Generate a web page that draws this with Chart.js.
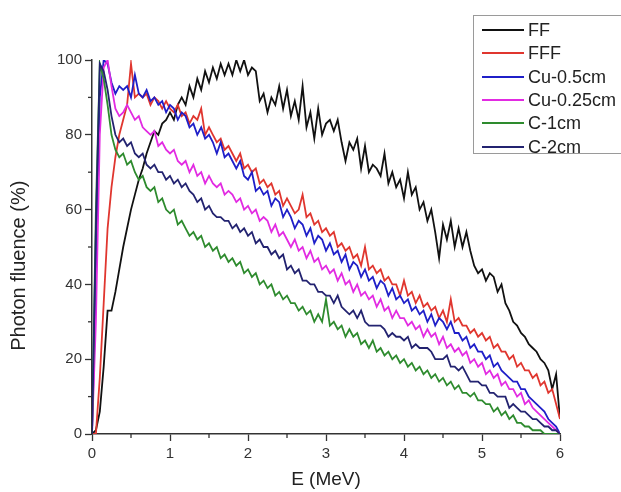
<!DOCTYPE html>
<html>
<head>
<meta charset="utf-8">
<script src="https://cdn.jsdelivr.net/npm/chart.js@4.4.1/dist/chart.umd.min.js"></script>
<style>
  html, body { margin: 0; padding: 0; background: #fff; overflow: hidden; }
  #wrap { position: relative; width: 621px; height: 492px; }
  #legend { position: absolute; left: 473px; top: 15px; width: 160px; height: 139px; border: 1px solid #9a9a9a; background: #fff; font-family: "Liberation Sans", Arial, sans-serif; font-size: 18px; color: #222; box-sizing: border-box; }
  .row { position: absolute; left: 0; height: 22px; line-height: 22px; white-space: nowrap; }
  .row span.l { position: absolute; left: 8px; top: 10px; width: 42px; height: 0; border-top: 2px solid #000; }
  .row span.t { position: absolute; left: 54px; top: 0; }
</style>
</head>
<body>
<div id="wrap">
  <canvas id="c" width="621" height="492"></canvas>
  <div id="legend"></div>
</div>
<script>
// ---- data ----
const energy = [0,0.05,0.1,0.15,0.2,0.25,0.3,0.35,0.4,0.45,0.5,0.55,0.6,0.65,0.7,0.75,0.8,0.85,0.9,0.95,
1,1.05,1.1,1.15,1.2,1.25,1.3,1.35,1.4,1.45,1.5,1.55,1.6,1.65,1.7,1.75,1.8,1.85,1.9,1.95,
2,2.05,2.1,2.15,2.2,2.25,2.3,2.35,2.4,2.45,2.5,2.55,2.6,2.65,2.7,2.75,2.8,2.85,2.9,2.95,
3,3.05,3.1,3.15,3.2,3.25,3.3,3.35,3.4,3.45,3.5,3.55,3.6,3.65,3.7,3.75,3.8,3.85,3.9,3.95,
4,4.05,4.1,4.15,4.2,4.25,4.3,4.35,4.4,4.45,4.5,4.55,4.6,4.65,4.7,4.75,4.8,4.85,4.9,4.95,
5,5.05,5.1,5.15,5.2,5.25,5.3,5.35,5.4,5.45,5.5,5.55,5.6,5.65,5.7,5.75,5.8,5.85,5.9,5.95,6];

const seriesNames = ["FF","FFF","Cu-0.5cm","Cu-0.25cm","C-1cm","C-2cm"];

const ff = [0,1,6,18,33,33,38,44,50,55,60,64,68,71,75,78,81,80,83,84,
86,84,88,90,88,93,90,95,92,97,94,98,95,99,96,99,96,100,97,100,
96,98,97,89,91,86,90,88,93,87,92,85,89,84,93,82,86,79,87,80,
83,84,81,84,78,73,78,76,79,71,77,70,72,71,69,75,67,70,66,68,
63,70,64,66,60,62,57,60,54,47,56,52,57,50,55,50,54,49,45,43,
44,41,43,42,38,40,35,33,30,29,27,26,24,23,22,20,19,17,12,16,4];

const fff = [0,0,15,35,55,66,74,80,84,88,99,90,91,90,91,88,90,89,87,89,
87,86,88,85,86,83,85,84,87,80,82,80,78,79,76,77,75,73,75,71,
72,70,71,67,68,66,67,64,65,61,63,61,59,60,64,58,59,56,57,54,
55,53,54,50,51,49,50,47,48,45,50,44,45,43,44,41,42,40,40,37,
41,37,38,35,37,34,35,33,34,31,33,30,36,30,31,29,29,27,28,26,
27,25,26,23,24,22,22,20,21,18,19,17,17,15,16,13,14,11,12,8,4];

const cu05 = [0,40,90,100,99,94,91,93,92,93,90,96,91,90,92,89,90,88,89,86,
88,87,84,86,85,82,83,80,82,79,80,78,75,78,74,75,73,71,73,69,
68,70,65,66,64,65,61,63,62,58,60,58,55,57,56,53,55,51,53,52,
49,51,48,49,46,48,44,46,45,42,44,41,42,39,41,40,37,39,36,37,
35,36,33,34,32,33,30,32,29,31,30,28,30,27,27,25,26,23,24,22,
22,20,21,18,19,17,16,15,14,14,12,12,10,9,8,7,6,4,3,2,0];

const cu025 = [0,30,80,98,100,93,87,85,86,88,86,84,85,82,81,80,81,77,78,76,
75,76,73,72,73,70,72,69,70,67,69,67,66,67,64,65,64,62,63,60,
61,59,60,57,58,57,54,56,53,54,52,50,52,49,50,47,49,46,47,44,
45,43,44,41,43,40,41,38,40,37,38,36,37,34,36,33,34,31,33,31,
31,29,30,28,29,26,28,26,27,24,26,23,24,22,23,21,22,19,20,18,
19,16,17,15,16,13,14,12,12,10,11,8,9,7,6,5,4,3,2,1,0];

const c1 = [0,60,99,95,88,80,76,74,75,72,73,70,68,69,66,65,66,62,63,60,
59,60,56,57,55,53,54,52,53,50,51,49,50,47,48,46,47,45,46,43,
44,42,43,40,41,39,40,37,38,36,37,35,35,33,34,32,33,30,32,30,
36,29,30,28,29,26,28,26,27,24,25,23,25,22,23,21,22,20,21,19,
20,18,19,17,18,16,17,15,16,14,15,13,14,12,13,11,11,10,11,9,
9,8,8,6,7,5,6,4,5,3,3,2,2,1,1,1,0,0,0,0,0];

const c2 = [0,55,99,97,92,85,80,78,79,77,78,75,74,75,72,71,72,70,70,68,
69,67,68,66,67,65,64,62,63,60,61,59,58,58,57,57,55,56,54,55,
53,54,51,52,50,50,48,49,47,48,44,45,43,44,41,41,40,40,38,38,
37,37,35,37,34,33,32,33,31,33,30,29,29,29,29,28,26,27,26,26,
25,26,23,24,23,23,23,22,20,20,20,21,18,18,17,18,16,14,14,14,
13,13,11,11,10,10,10,7,8,7,6,6,5,4,4,3,2,2,1,1,0];

const xTicks = [0,1,2,3,4,5,6];
const yTicks = [0,20,40,60,80,100];
const yTitle = 'Photon fluence (%)';

// ---- styles ----
const colors = ["#111111","#e0362f","#1f1fc8","#e22be2","#2e8b2e","#232370"];
const allValues = [ff, fff, cu05, cu025, c1, c2];

const datasets = allValues.map((vals, i) => ({
  label: seriesNames[i],
  data: energy.map((e, k) => ({x: e, y: vals[k]})),
  borderColor: colors[i],
  backgroundColor: colors[i],
  borderWidth: 1.8,
  pointRadius: 0,
  tension: 0,
  fill: false,
  order: 5 - i
}));

// HTML legend
const lg = document.getElementById('legend');
seriesNames.forEach((n, i) => {
  const r = document.createElement('div');
  r.className = 'row';
  r.style.top = (3 + i * 23.3) + 'px';
  r.innerHTML = '<span class="l" style="border-top-color:' + colors[i] + '"></span><span class="t">' + n + '</span>';
  lg.appendChild(r);
});

const extras = {
  id: 'extras',
  afterDraw(chart) {
    const ctx = chart.ctx, xs = chart.scales.x, ys = chart.scales.y;
    ctx.save();
    ctx.strokeStyle = '#333';
    ctx.lineWidth = 1.3;
    const yb = ys.getPixelForValue(0), xl = xs.getPixelForValue(0);
    for (let v = 0.5; v < 6; v += 1) {
      const px = xs.getPixelForValue(v);
      ctx.beginPath(); ctx.moveTo(px, yb); ctx.lineTo(px, yb + 4); ctx.stroke();
    }
    for (let v = 10; v < 100; v += 20) {
      const py = ys.getPixelForValue(v);
      ctx.beginPath(); ctx.moveTo(xl, py); ctx.lineTo(xl - 4, py); ctx.stroke();
    }
    // y axis title, placed as in the reference (slightly below the plot centre)
    ctx.translate(19, ys.getPixelForValue(45));
    ctx.rotate(-Math.PI / 2);
    ctx.fillStyle = '#222';
    ctx.font = '20px "Liberation Sans"';
    ctx.textAlign = 'center';
    ctx.textBaseline = 'middle';
    ctx.fillText(yTitle, 0, 0);
    ctx.restore();
  }
};

new Chart(document.getElementById('c'), {
  type: 'line',
  data: { datasets },
  plugins: [extras],
  options: {
    responsive: false,
    animation: false,
    layout: { padding: { left: 0, top: 60, right: 61, bottom: 0 } },
    plugins: { legend: { display: false }, tooltip: { enabled: false } },
    scales: {
      x: {
        type: 'linear', min: 0, max: 6,
        afterBuildTicks: s => { s.ticks = xTicks.map(v => ({value: v})); },
        afterFit: s => { s.height = 58; },
        border: { color: '#333', width: 1.5 },
        grid: { drawOnChartArea: false, drawTicks: true, tickLength: 7, tickColor: '#333', tickWidth: 1.3 },
        ticks: { color: '#333', font: { family: 'Liberation Sans', size: 15 }, padding: 4, maxRotation: 0 },
        title: { display: true, text: 'E (MeV)', color: '#222', font: { family: 'Liberation Sans', size: 19 }, padding: { top: 0, bottom: 1 } }
      },
      y: {
        type: 'linear', min: 0, max: 100,
        afterBuildTicks: s => { s.ticks = yTicks.map(v => ({value: v})); },
        afterFit: s => { s.width = 92; },
        border: { color: '#333', width: 1.5 },
        grid: { drawOnChartArea: false, drawTicks: true, tickLength: 7, tickColor: '#333', tickWidth: 1.3 },
        ticks: { color: '#333', font: { family: 'Liberation Sans', size: 15 }, padding: 3 },
        title: { display: false }
      }
    }
  }
});
</script>
</body>
</html>
